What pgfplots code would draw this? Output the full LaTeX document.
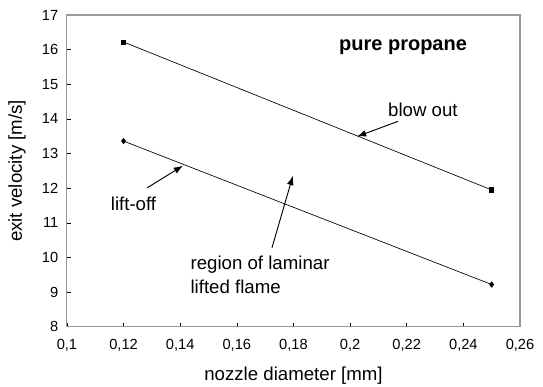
\documentclass[border=0pt]{standalone}
\usepackage{fontspec}
\setmainfont{Liberation Sans}
\usepackage{pgfplots}
\pgfplotsset{compat=1.18}
\usetikzlibrary{arrows.meta}
\begin{document}
\begin{tikzpicture}
\begin{axis}[
  scale only axis,
  width=340pt, height=234pt,
  xmin=0.1, xmax=0.26, ymin=8, ymax=17,
  xtick={0.1,0.12,...,0.261},
  ytick={8,9,...,17},
  /pgf/number format/.cd, use comma, fixed, assume math mode=true,
  /pgfplots/.cd,
  axis line style={draw=gray!80, line width=0.8pt},
  tick style={black, line width=0.5pt},
  tick align=inside,
  xtick pos=bottom, ytick pos=left,
  major tick length=3pt,
  tick label style={font=\fontsize{11}{12}\selectfont},
  xticklabel style={yshift=-6pt},
  yticklabel style={xshift=-3pt},
  xlabel={nozzle diameter [mm]},
  label style={font=\fontsize{14}{16}\selectfont},
  xlabel style={at={(axis description cs:0.5,0)}, yshift=-37pt, anchor=center},
  clip=false,
]
\addplot[black, line width=0.5pt, mark=square*, mark size=1.6pt] coordinates {(0.12,16.22) (0.25,11.95)};
\addplot[black, line width=0.5pt, mark=diamond*, mark size=2pt] coordinates {(0.12,13.36) (0.25,9.22)};
\node[font=\bfseries\fontsize{15}{17}\selectfont] at (axis cs:0.2187,16.07) {pure propane};
\node[font=\fontsize{14}{16}\selectfont] at (axis cs:0.2257,14.27) {blow out};
\draw[-{Latex[length=7pt,width=5pt]}, line width=0.7pt] (axis cs:0.2169,13.93) -- (axis cs:0.2024,13.49);
\node[font=\fontsize{14}{16}\selectfont] at (axis cs:0.1235,11.55) {lift-off};
\draw[-{Latex[length=7pt,width=5pt]}, line width=0.7pt] (axis cs:0.1283,12.01) -- (axis cs:0.141,12.65);
\node[font=\fontsize{14}{18}\selectfont, anchor=west, align=left] at (axis cs:0.1420,9.5) {region of laminar\\lifted flame};
\draw[-{Latex[length=7pt,width=5pt]}, line width=0.7pt] (axis cs:0.1724,10.28) -- (axis cs:0.1798,12.36);
\end{axis}
\node[rotate=90, font=\fontsize{14}{16}\selectfont] at ([xshift=-37.5pt]current axis.west) {exit velocity [m/s]};
\pgfresetboundingbox
\path ([xshift=-50.25pt,yshift=-45pt]current axis.south west) rectangle ([xshift=17.25pt,yshift=11.25pt]current axis.north east);
\end{tikzpicture}
\end{document}
